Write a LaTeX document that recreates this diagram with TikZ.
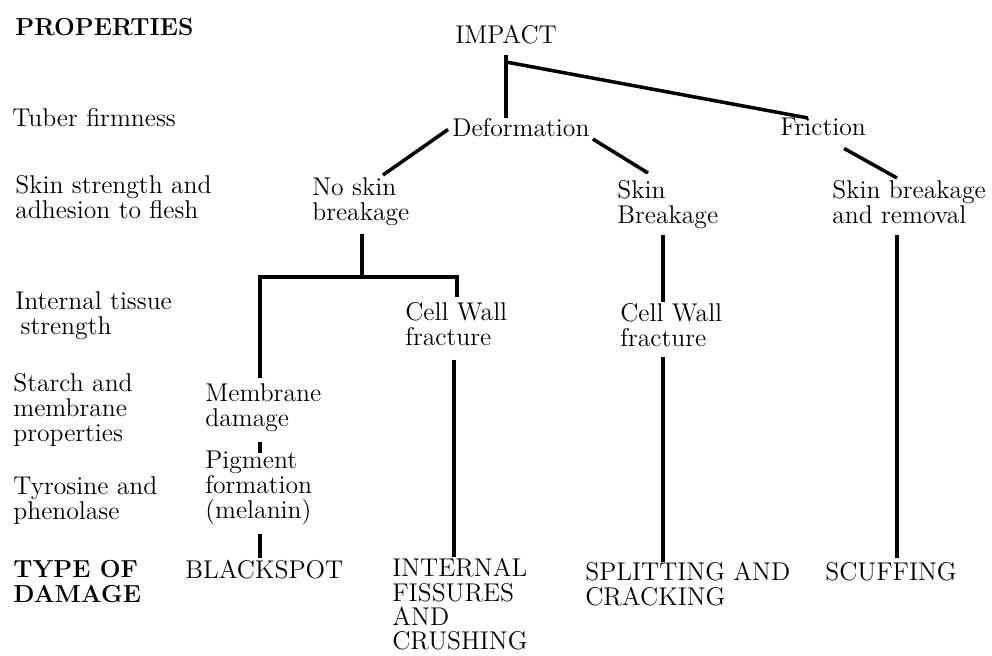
\documentclass[tikz,border=0pt]{standalone}
\usepackage{tikz}
\usetikzlibrary{positioning}
\tikzset{
  tree-label/.style={anchor=north west, inner sep=0pt, align=left,
    font=\fontsize{14.6}{14.2}\selectfont},
  prop-label/.style={tree-label},
  prop-head/.style={tree-label, font=\fontsize{14}{14.2}\selectfont\bfseries},
  tree-link/.style={line width=2pt, line cap=butt}
}

\begin{document}
\begin{tikzpicture}[x=0.02cm, y=-0.02cm]
  \useasboundingbox (0,0) rectangle (992,656);

  % Properties column (left)
  \node[prop-head]  (props)  at (15,18)  {PROPERTIES};
  \node[prop-label] (tuber)  at (12,108) {Tuber firmness};
  \node[prop-label] (skinst) at (15,175) {Skin strength and\\adhesion to flesh};
  \node[prop-label] (tissue) at (15,291) {Internal tissue\\\hspace*{3pt}strength};
  \node[prop-label] (starch) at (13,373) {Starch and\\membrane\\properties};
  \node[prop-label] (tyros)  at (13,476) {Tyrosine and\\phenolase};
  \node[prop-head]  (dtype)  at (13,560) {TYPE OF\\DAMAGE};

  % Tree of damage
  \node[tree-label] (impact)   at (455,25)  {IMPACT};
  \node[tree-label] (deform)   at (452,118) {Deformation};
  \node[tree-label] (friction) at (780,118) {Friction};
  \node[tree-label] (noskin)   at (312,177) {No skin\\breakage};
  \node[tree-label] (skinbr)   at (617,180) {Skin\\Breakage};
  \node[tree-label] (skinrem)  at (832,180) {Skin breakage\\and removal};
  \node[tree-label] (cwf1)     at (405,302) {Cell Wall\\fracture};
  \node[tree-label] (cwf2)     at (620,303) {Cell Wall\\fracture};
  \node[tree-label] (memb)     at (205,383) {Membrane\\damage};
  \node[tree-label] (pigm)     at (205,451) {Pigment\\formation\\(melanin)};
  \node[tree-label] (black)    at (185,560) {BLACKSPOT};
  \node[tree-label, font=\fontsize{14.6}{13.9}\selectfont] (internal) at (392,558)
    {INTERNAL\\FISSURES\\AND\\CRUSHING};
  \node[tree-label] (split)    at (585,562) {SPLITTING AND\\CRACKING};
  \node[tree-label] (scuff)    at (825,562) {SCUFFING};

  % junctions
  \coordinate (fork) at (506,62);
  \coordinate (barL) at (260,277);
  \coordinate (barM) at (362,277);
  \coordinate (barR) at (457,277);

  % Impact split
  \draw[tree-link] ([shift={(0,10)}]impact.south -| fork) -- (fork |- deform.north);
  \draw[tree-link] (fork) -- ([shift={(28,0)}]friction.north west);

  % Deformation / Friction branches
  \draw[tree-link] ([shift={(-4,2)}]deform.west) -- ([shift={(71,-2)}]noskin.north west);
  \draw[tree-link] ([shift={(3,2)}]deform.south east) -- ([shift={(31,-7)}]skinbr.north west);
  \draw[tree-link] ([shift={(21,12)}]friction.south) -- ([shift={(65,-2)}]skinrem.north west);

  % No skin breakage bar
  \draw[tree-link] ([shift={(0,8)}]noskin.south -| barM) -- (barM);
  \draw[tree-link] ([shift={(55,-5)}]memb.north west) -- (barL) -- (barR)
    -- ([shift={(52,-5)}]cwf1.north west);

  % down to damage types
  \draw[tree-link] ([shift={(49,14)}]cwf1.south west) -- ([shift={(62,-1)}]internal.north west);
  \draw[tree-link] ([shift={(46,6)}]skinbr.south west) -- ([shift={(43,-1)}]cwf2.north west);
  \draw[tree-link] ([shift={(43,10)}]cwf2.south west) -- ([shift={(78,0)}]split.north west);
  \draw[tree-link] ([shift={(65,11)}]skinrem.south west) -- ([shift={(72,-4)}]scuff.north west);
  \draw[tree-link] ([shift={(55,10)}]memb.south west) -- ([shift={(55,2)}]pigm.north west);
  \draw[tree-link] ([shift={(55,8)}]pigm.south west) -- ([shift={(75,-2)}]black.north west);
\end{tikzpicture}
\end{document}
